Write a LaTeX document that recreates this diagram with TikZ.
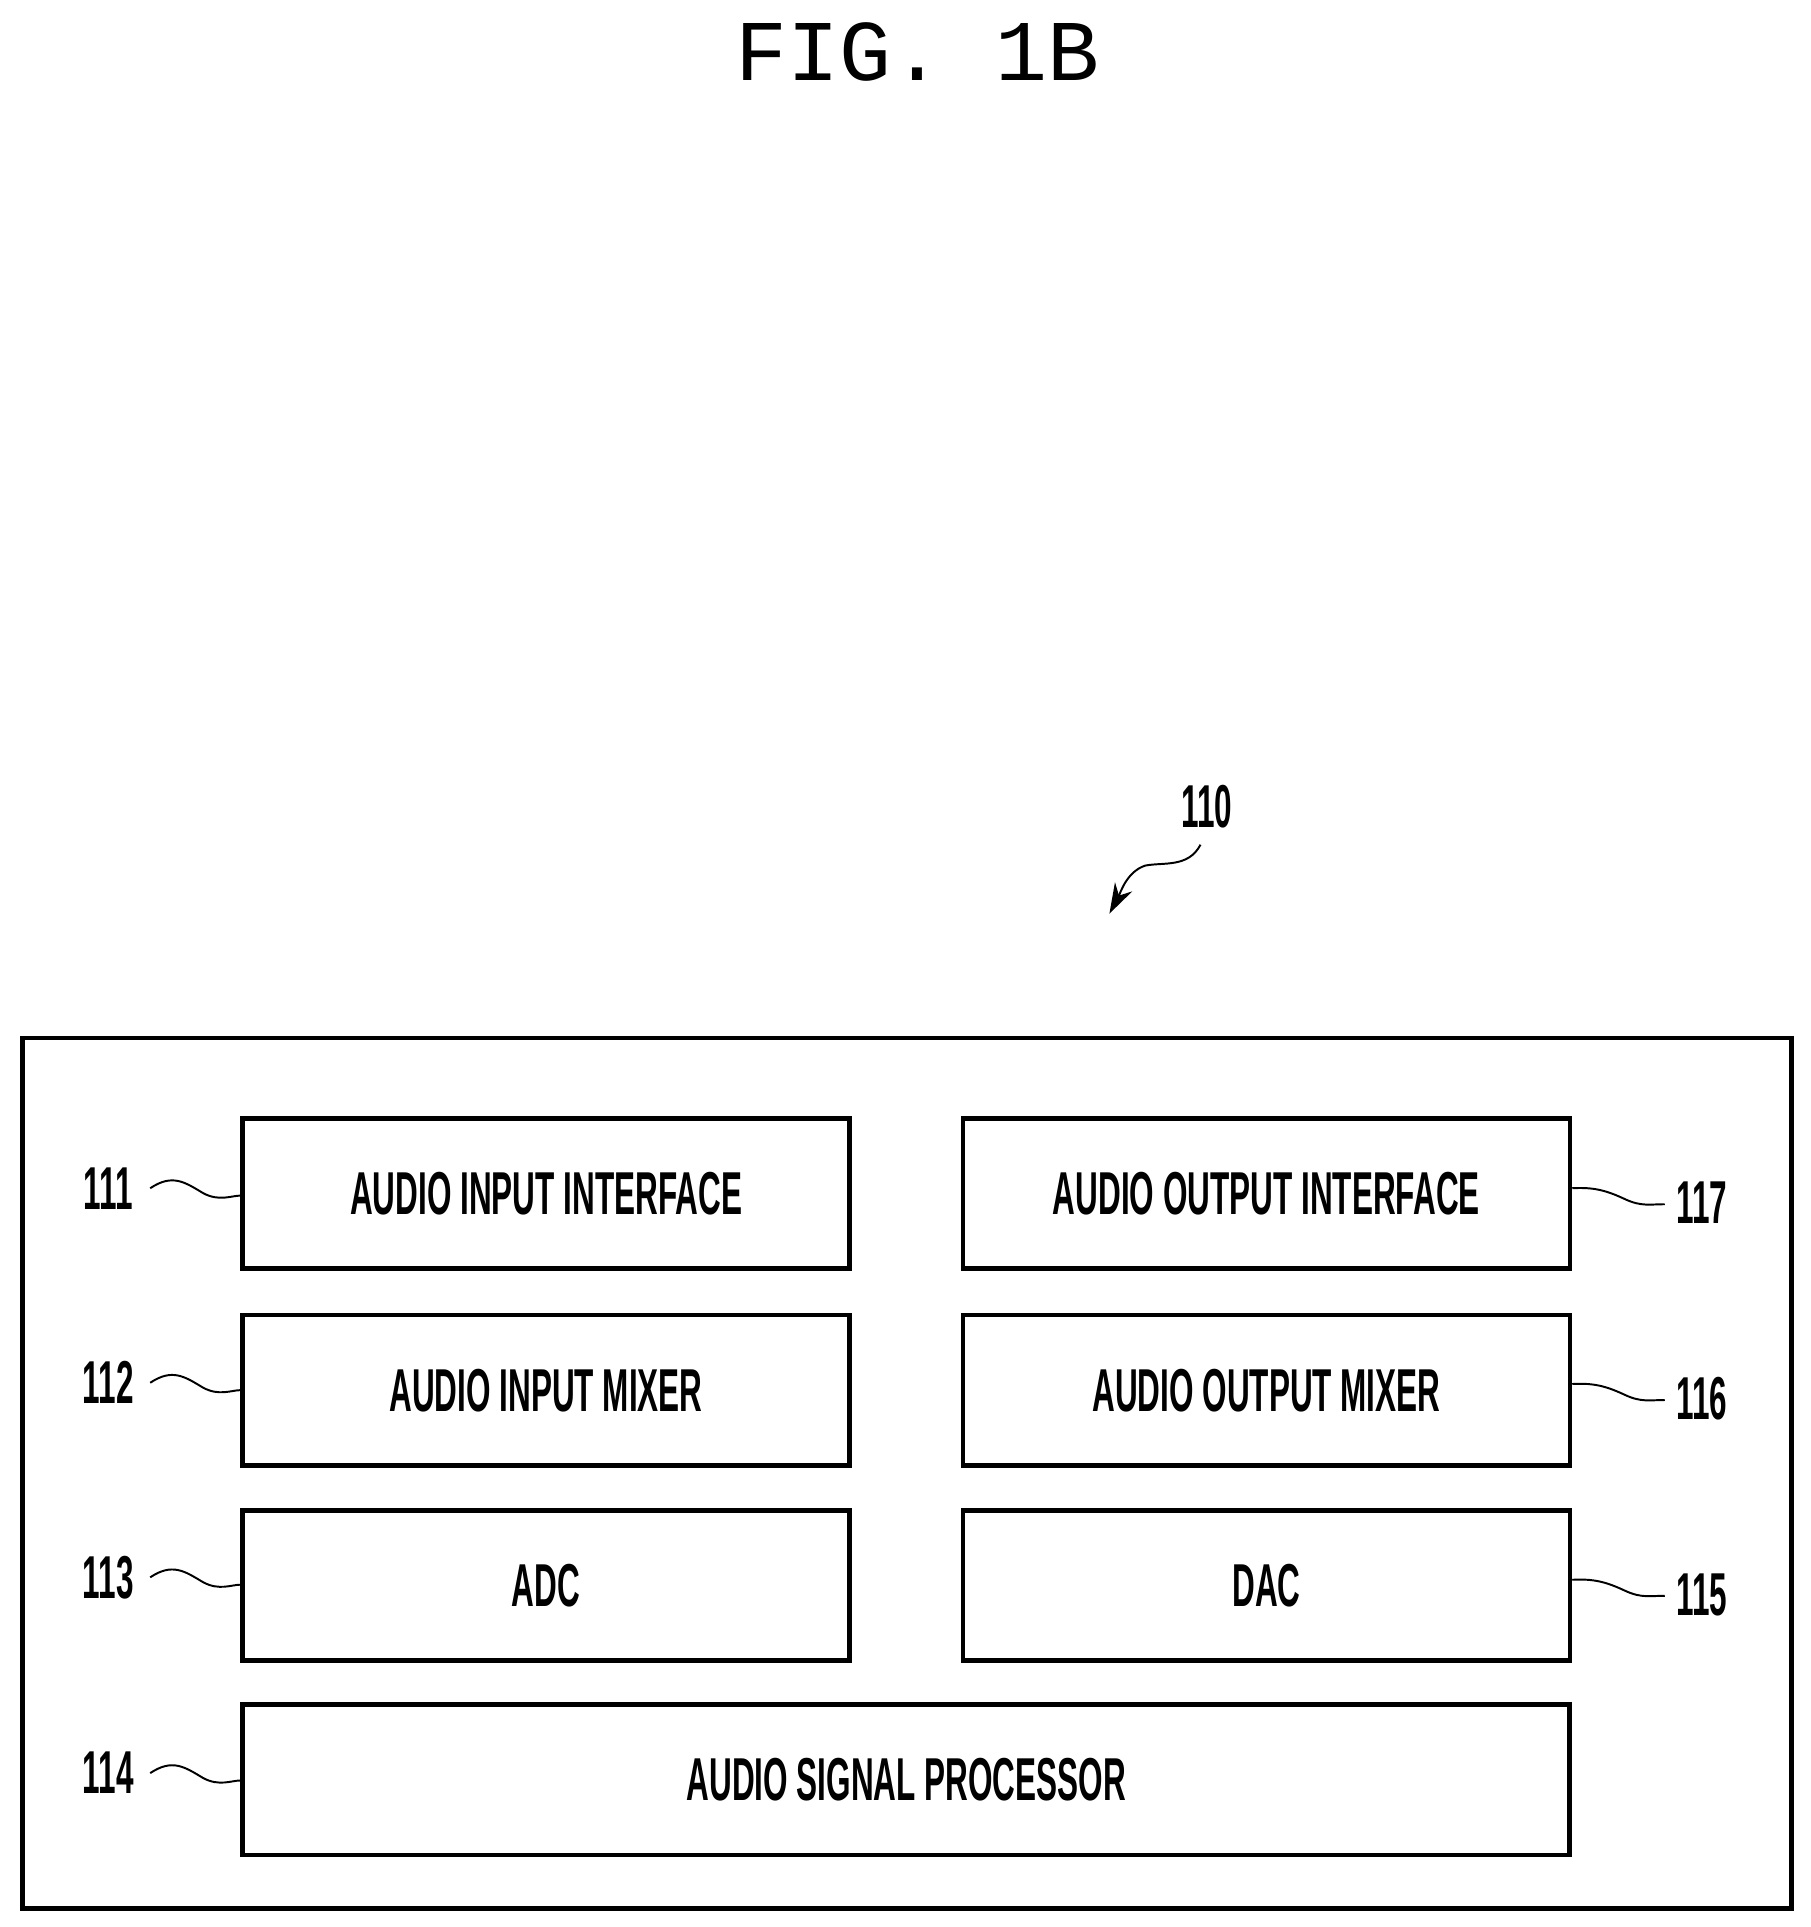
\documentclass[tikz,border=0pt]{standalone}
\usetikzlibrary{arrows.meta}
\usepackage{fontspec}
\setmainfont{Liberation Sans}
\newfontfamily\monof{Liberation Mono}
\begin{document}
\begin{tikzpicture}[x=0.02cm,y=-0.02cm,
 blk/.style={draw,line width=2.2pt,minimum height=2.44cm,inner sep=0pt},
 lbl/.style={font=\fontsize{28}{30}\selectfont\bfseries},
 lead/.style={line width=0.9pt}]
\useasboundingbox (0,0) rectangle (1470,1565);
\newcommand\cn[1]{\scalebox{0.52}[1]{#1}}
\node[font=\monof\fontsize{40}{42}\selectfont] (t) at (745,42) {FIG. 1B};
\node[draw,line width=2.2pt,minimum width=28.74cm,minimum height=14.14cm,inner sep=0pt] (o) at (736.5,1196.5) {};
\node[blk,minimum width=9.86cm] (a) at (443.5,969.5) {};
\node[lbl] at (a) {\cn{AUDIO INPUT INTERFACE}};
\node[blk,minimum width=9.86cm] (b) at (443.5,1129) {};
\node[lbl] at (b) {\cn{AUDIO INPUT MIXER}};
\node[blk,minimum width=9.86cm] (c) at (443.5,1287.5) {};
\node[lbl] at (c) {\cn{ADC}};
\node[blk,minimum width=9.86cm] (g) at (1028.5,969.5) {};
\node[lbl] at (g) {\cn{AUDIO OUTPUT INTERFACE}};
\node[blk,minimum width=9.86cm] (f) at (1028.5,1129) {};
\node[lbl] at (f) {\cn{AUDIO OUTPUT MIXER}};
\node[blk,minimum width=9.86cm] (e) at (1028.5,1287.5) {};
\node[lbl] at (e) {\cn{DAC}};
\node[blk,minimum width=21.56cm] (d) at (736,1445.5) {};
\node[lbl] at (d) {\cn{AUDIO SIGNAL PROCESSOR}};
\foreach \n/\y/\t in {a/965/111,b/1123/112,c/1281/113,d/1440/114}{
  \node[lbl] (l\t) at (88,\y) {\cn{\t}};
  \coordinate (s\t) at (122,\y);
  \draw[lead] (s\t) .. controls (140,\y-12) and (150,\y-5) .. (165,\y+4) .. controls (178,\y+11) and (188,\y+6) .. (\n.west |- 0,\y+6);
}
\foreach \n/\y/\t in {g/977/117,f/1136/116,e/1295/115}{
  \node[lbl] (l\t) at (1382,\y) {\cn{\t}};
  \coordinate (s\t) at (1352,\y+1);
  \draw[lead] (\n.east |- 0,\y-12) .. controls (1295,\y-13) and (1305,\y-10) .. (1320,\y-3) .. controls (1333,\y+3) and (1340,\y+1) .. (s\t);
}
\node[lbl] (l110) at (980,655) {\cn{110}};
\coordinate (p) at (975,686);
\coordinate (q) at (901,742);
\draw[lead,-{Stealth[length=14pt,width=9pt]}] (p) .. controls (965,705) and (945,700) .. (930,703) .. controls (915,708) and (910,725) .. (q);
\end{tikzpicture}
\end{document}
